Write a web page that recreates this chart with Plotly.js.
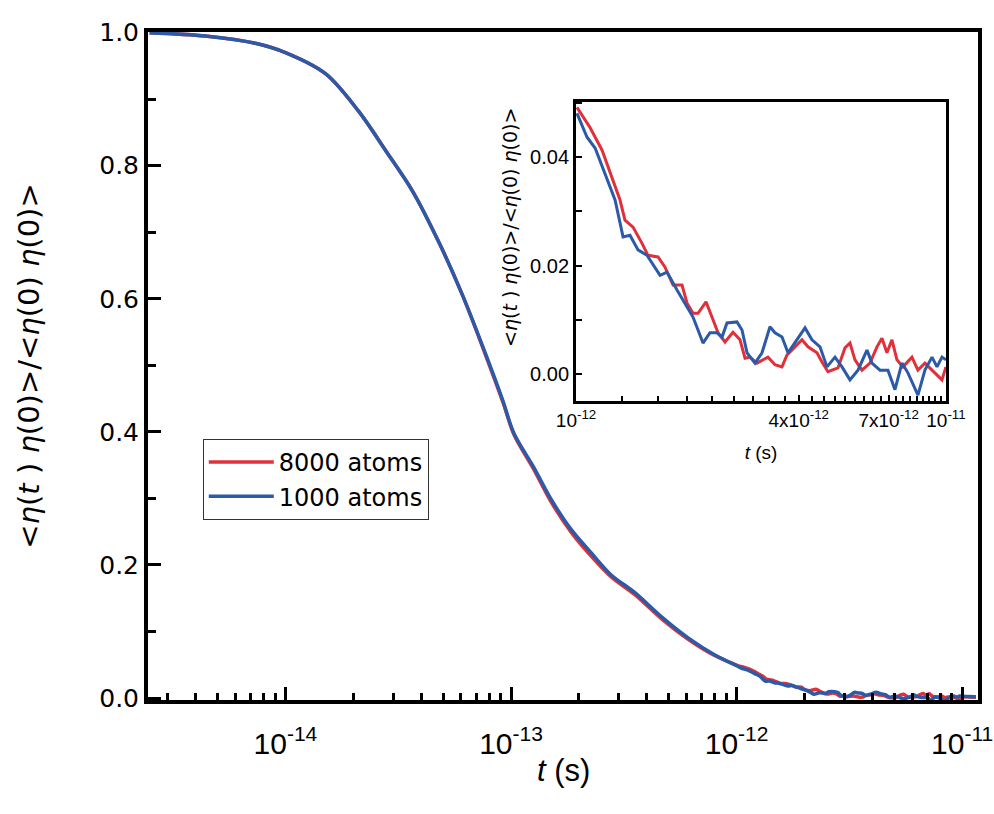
<!DOCTYPE html>
<html>
<head>
<meta charset="utf-8">
<script src="https://cdn.plot.ly/plotly-3.0.1.min.js"></script>
<style>html,body{margin:0;padding:0;background:#fff;}#chart{width:994px;height:814px;}</style>
</head>
<body>
<div id="chart"></div>
<script>
// ---- Data ----
// Main decay (seconds) before 1e-12, shared time base
const tHead = [2.5e-15, 4.41e-15, 7.36e-15, 1.0e-14, 1.51e-14, 2.11e-14, 2.78e-14, 3.66e-14, 4.79e-14, 6.12e-14, 7.74e-14, 9.20e-14, 1.03e-13, 1.26e-13, 1.51e-13, 1.85e-13, 2.27e-13, 2.78e-13, 3.52e-13, 4.65e-13, 6.12e-13, 7.98e-13];
const red8000Head = [1.0, 0.995, 0.984, 0.970, 0.938, 0.882, 0.823, 0.762, 0.685, 0.604, 0.514, 0.445, 0.396, 0.344, 0.294, 0.249, 0.213, 0.182, 0.156, 0.119, 0.088, 0.064];
const blue1000Head = [1.0, 0.995, 0.984, 0.970, 0.938, 0.882, 0.823, 0.762, 0.685, 0.604, 0.516, 0.447, 0.398, 0.347, 0.298, 0.253, 0.218, 0.185, 0.159, 0.122, 0.090, 0.065];

// Tail 1e-12 .. 1e-11 (time in units of 1e-12 s), as in the inset
const tRed = [1.006, 1.091, 1.176, 1.259, 1.315, 1.356, 1.426, 1.508, 1.565, 1.666, 1.740, 1.829, 1.934, 1.995, 2.071, 2.137, 2.246, 2.346, 2.420, 2.527, 2.656, 2.775, 2.863, 2.953, 3.085, 3.303, 3.450, 3.604, 3.718, 3.908, 4.082, 4.236, 4.481, 4.622, 4.798, 5.106, 5.333, 5.502, 5.676, 5.929, 6.231, 6.509, 6.714, 6.925, 7.145, 7.371, 7.651, 8.091, 8.399, 8.773, 9.340, 9.754, 10.0];
const red8000Tail = [0.0492, 0.0455, 0.0413, 0.0358, 0.0321, 0.0284, 0.0271, 0.0241, 0.0219, 0.0216, 0.0197, 0.0164, 0.0164, 0.0131, 0.0112, 0.0112, 0.0133, 0.0100, 0.0076, 0.0059, 0.0077, 0.0063, 0.0029, 0.0031, 0.0020, 0.0031, 0.0017, 0.0013, 0.0035, 0.0050, 0.0063, 0.0050, 0.0039, 0.0022, 0.0004, 0.0011, 0.0048, 0.0057, 0.0026, 0.0007, 0.0020, 0.0050, 0.0066, 0.0039, 0.0063, 0.0026, 0.0013, 0.0031, 0.0007, 0.0020, 0.0002, -0.0011, 0.0013];
const tBlue = [1.006, 1.071, 1.126, 1.198, 1.275, 1.340, 1.399, 1.471, 1.555, 1.687, 1.762, 1.875, 1.971, 2.071, 2.137, 2.204, 2.302, 2.405, 2.481, 2.559, 2.723, 2.810, 2.899, 3.047, 3.182, 3.344, 3.450, 3.604, 3.741, 3.908, 4.159, 4.343, 4.565, 4.768, 5.012, 5.235, 5.502, 5.783, 6.116, 6.310, 6.632, 6.968, 7.280, 7.603, 7.892, 8.399, 8.773, 9.167, 9.457, 9.754, 10.0];
const blue1000Tail = [0.0481, 0.0437, 0.0417, 0.0370, 0.0321, 0.0253, 0.0256, 0.0229, 0.0219, 0.0182, 0.0188, 0.0155, 0.0131, 0.0105, 0.0081, 0.0057, 0.0076, 0.0076, 0.0068, 0.0094, 0.0096, 0.0081, 0.0039, 0.0020, 0.0039, 0.0087, 0.0076, 0.0068, 0.0039, 0.0057, 0.0085, 0.0063, 0.0050, 0.0013, 0.0031, 0.0013, -0.0011, 0.0007, 0.0044, 0.0020, 0.0007, 0.0007, -0.0029, 0.0020, 0.0002, -0.0039, 0.0007, 0.0031, 0.0013, 0.0031, 0.0026];
// Last point past 1e-11 (main plot only)
const tEnd = [1.15e-11];
const redEnd = [0.001];
const blueEnd = [0.002];

const seriesNames = ['8000 atoms', '1000 atoms'];
const mainTickVals = [1e-14, 1e-13, 1e-12, 1e-11];
const mainTickText = ['10<sup>-14</sup>', '10<sup>-13</sup>', '10<sup>-12</sup>', '10<sup>-11</sup>'];
const insetTickVals = [1e-12, 4e-12, 7e-12, 1e-11];
const insetTickText = ['10<sup>-12</sup>', '4x10<sup>-12</sup>', '7x10<sup>-12</sup>', '10<sup>-11</sup>'];
const yTitle = '&lt;<i>η</i>(<i>t</i> ) <i>η</i>(0)&gt;/&lt;<i>η</i>(0) <i>η</i>(0)&gt;';
const xTitle = '<i>t</i> (s)';

// ---- Build ----
const RED = '#e0313b', BLUE = '#2a5aa8';
const toS = a => a.map(v => v * 1e-12);
const redT = tHead.concat(toS(tRed), tEnd);
const redY = red8000Head.concat(red8000Tail, redEnd);
const blueT = tHead.concat(toS(tBlue), tEnd);
const blueY = blue1000Head.concat(blue1000Tail, blueEnd);

const minorMain = [];
for (let e = -15; e <= -11; e++) for (let m = 2; m <= 9; m++) minorMain.push(m * Math.pow(10, e));
const minorInset = [];
for (let k = 4; k < 30; k++) minorInset.push(k / 3 * 1e-12);

const traces = [
  {x: redT, y: redY, name: seriesNames[0], type: 'scatter', mode: 'lines', line: {color: RED, width: 3.5, shape: 'spline', smoothing: 0.9}, xaxis: 'x', yaxis: 'y'},
  {x: blueT, y: blueY, name: seriesNames[1], type: 'scatter', mode: 'lines', line: {color: BLUE, width: 3.5, shape: 'spline', smoothing: 0.9}, xaxis: 'x', yaxis: 'y'},
  {x: toS(tRed), y: red8000Tail, name: seriesNames[0], showlegend: false, type: 'scatter', mode: 'lines', line: {color: RED, width: 3}, xaxis: 'x2', yaxis: 'y2'},
  {x: toS(tBlue), y: blue1000Tail, name: seriesNames[1], showlegend: false, type: 'scatter', mode: 'lines', line: {color: BLUE, width: 3}, xaxis: 'x2', yaxis: 'y2'}
];

const TXT = 'Liberation Sans, Arial, sans-serif';
const WIDE = 'DejaVu Sans, Liberation Sans, sans-serif';

const layout = {
  width: 994, height: 814,
  paper_bgcolor: '#ffffff', plot_bgcolor: '#ffffff',
  margin: {l: 148, r: 16, t: 32, b: 114},
  font: {family: WIDE, color: '#000'},
  showlegend: true,
  legend: {x: 0.066, y: 0.3907, xanchor: 'left', yanchor: 'top', bgcolor: '#fff', bordercolor: '#333', borderwidth: 1,
           font: {family: WIDE, size: 24, color: '#000'}, itemwidth: 65},
  xaxis: {
    type: 'log', domain: [0, 1], anchor: 'y',
    range: [Math.log10(2.46e-15), Math.log10(1.175e-11)],
    showline: true, linewidth: 4, linecolor: '#000', mirror: true,
    showgrid: false, zeroline: false,
    ticks: 'inside', ticklen: 13, tickwidth: 3, tickcolor: '#000',
    tickmode: 'array', tickvals: mainTickVals, ticktext: mainTickText,
    tickfont: {family: TXT, size: 30, color: '#000'},
    ticklabeloverflow: 'allow', ticklabelstandoff: 14,
    minor: {ticks: 'inside', ticklen: 7, tickwidth: 3, tickcolor: '#000', tickmode: 'array', tickvals: minorMain, showgrid: false}
  },
  yaxis: {
    domain: [0, 1], anchor: 'x',
    range: [-0.003, 1.001],
    showline: true, linewidth: 4, linecolor: '#000', mirror: true,
    showgrid: false, zeroline: false,
    ticks: 'inside', ticklen: 13, tickwidth: 3, tickcolor: '#000',
    tickmode: 'linear', tick0: 0, dtick: 0.2, tickformat: '.1f',
    tickfont: {family: WIDE, size: 25, color: '#000'},
    minor: {ticks: 'inside', ticklen: 8, tickwidth: 3, tickcolor: '#000', dtick: 0.1, showgrid: false},
    title: {text: yTitle, font: {family: WIDE, size: 29, color: '#000'}, standoff: 52}
  },
  xaxis2: {
    type: 'log', domain: [0.5157, 0.9614], anchor: 'y2',
    range: [-12, -11],
    showline: true, linewidth: 3, linecolor: '#000', mirror: true,
    showgrid: false, zeroline: false,
    ticks: 'inside', ticklen: 6, tickwidth: 2, tickcolor: '#000',
    tickmode: 'array', tickvals: insetTickVals, ticktext: insetTickText,
    tickfont: {family: TXT, size: 19, color: '#000'},
    ticklabeloverflow: 'allow',
    minor: {ticks: 'inside', ticklen: 5, tickwidth: 2, tickcolor: '#000', tickmode: 'array', tickvals: minorInset, showgrid: false},
    title: {text: xTitle, font: {family: TXT, size: 19, color: '#000'}, standoff: 16}
  },
  yaxis2: {
    domain: [0.4476, 0.8952], anchor: 'x2',
    range: [-0.005, 0.0502],
    showline: true, linewidth: 3, linecolor: '#000', mirror: true,
    showgrid: false, zeroline: false,
    ticks: 'inside', ticklen: 6, tickwidth: 2, tickcolor: '#000',
    tickmode: 'linear', tick0: 0, dtick: 0.02, tickformat: '.2f',
    tickfont: {family: TXT, size: 20, color: '#000'},
    minor: {ticks: 'inside', ticklen: 6, tickwidth: 2, tickcolor: '#000', dtick: 0.01, showgrid: false}
  },
  annotations: [
    {text: yTitle, xref: 'paper', yref: 'paper', x: (510 - 148) / 830, y: (700 - 228) / 668,
     xanchor: 'center', yanchor: 'middle', textangle: -90, showarrow: false,
     font: {family: WIDE, size: 19, color: '#000'}},
    {text: xTitle, xref: 'paper', yref: 'paper', x: 0.5, y: (700 - 770) / 668,
     xanchor: 'center', yanchor: 'middle', showarrow: false,
     font: {family: TXT, size: 31, color: '#000'}}
  ]
};

Plotly.newPlot('chart', traces, layout, {staticPlot: true, displayModeBar: false});
</script>
</body>
</html>
